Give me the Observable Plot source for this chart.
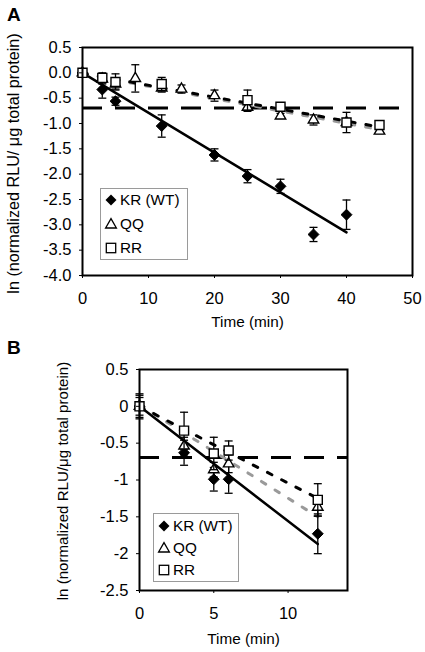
<!DOCTYPE html>
<html><head><meta charset="utf-8">
<script src="https://cdn.jsdelivr.net/npm/d3@7"></script>
<script src="https://cdn.jsdelivr.net/npm/@observablehq/plot@0.6"></script>
<style>
body{margin:0;background:#fff;}
#wrap{position:relative;width:425px;height:652px;background:#fff;font-family:"Liberation Sans",Arial,sans-serif;color:#000;}
.panel{position:absolute;left:0;}
.tag{position:absolute;font-weight:bold;font-size:19px;line-height:19px;}
.legend{position:absolute;border:1px solid #9a9a9a;background:#fff;font-size:15.3px;box-sizing:border-box;}
.legend .row{position:absolute;left:3px;height:20px;display:flex;align-items:center;white-space:nowrap;}
.legend svg{margin-right:2px;}
</style></head><body><div id="wrap"></div>
<script>
// ---------- data: panel A ----------
const seriesNames = ["KR (WT)", "QQ", "RR"];
const aTimeKR = [0, 3, 5, 12, 20, 25, 30, 35, 40];
const aValKR  = [0, -0.33, -0.56, -1.05, -1.62, -2.04, -2.24, -3.19, -2.8];
const aErrKR  = [0.05, 0.17, 0.08, 0.22, 0.12, 0.13, 0.14, 0.14, 0.29];
const aTimeQQ = [0, 3, 5, 8, 12, 15, 20, 25, 30, 35, 40, 45];
const aValQQ  = [0, -0.12, -0.22, -0.11, -0.3, -0.32, -0.45, -0.68, -0.85, -0.93, -0.98, -1.15];
const aErrQQ  = [0.05, 0.1, 0.1, 0.27, 0.08, 0.08, 0.11, 0.08, 0.05, 0.1, 0.08, 0.05];
const aTimeRR = [0, 3, 5, 12, 25, 30, 40, 45];
const aValRR  = [0, -0.1, -0.18, -0.22, -0.54, -0.67, -0.98, -1.03];
const aErrRR  = [0.07, 0.1, 0.16, 0.13, 0.2, 0.06, 0.2, 0.05];
const aFitTimeKR = [0, 40], aFitValKR = [0, -3.15];
const aFitTimeQQ = [0, 45], aFitValQQ = [-0.02, -1.12];
const aFitTimeRR = [0, 45], aFitValRR = [-0.01, -1.07];
const aXTicks = [0, 10, 20, 30, 40, 50];
const aYTicks = [0.5, 0, -0.5, -1, -1.5, -2, -2.5, -3, -3.5, -4];

// ---------- data: panel B ----------
const bTimeKR = [0, 3, 5, 6, 12];
const bValKR  = [0, -0.63, -0.99, -0.99, -1.73];
const bErrKR  = [0.17, 0.17, 0.16, 0.19, 0.27];
const bTimeQQ = [0, 3, 5, 6, 12];
const bValQQ  = [0, -0.54, -0.86, -0.78, -1.37];
const bErrQQ  = [0.12, 0.12, 0.1, 0.12, 0.12];
const bTimeRR = [0, 3, 5, 6, 12];
const bValRR  = [0, -0.33, -0.64, -0.6, -1.27];
const bErrRR  = [0.15, 0.25, 0.22, 0.13, 0.22];
const bFitTimeKR = [0, 12], bFitValKR = [0, -1.87];
const bFitTimeQQ = [0, 12], bFitValQQ = [0.02, -1.5];
const bFitTimeRR = [0, 12], bFitValRR = [0, -1.25];
const bXTicks = [0, 5, 10];
const bYTicks = [0.5, 0, -0.5, -1, -1.5, -2, -2.5];

const halfLife = [Math.log(0.5)];
const xTitle = "Time (min)";
const aYTitle = "ln (normalized RLU/ μg total protein)";
const bYTitle = "ln (normalized RLU/μg total protein)";

// ---------- helpers ----------
const FONT = '"Liberation Sans", Arial, sans-serif';
const cap = {draw(ctx) { ctx.moveTo(-4, 0); ctx.lineTo(4, 0); }};
const rows = (ts, vs, es) => ts.map((t, i) => ({t, v: vs[i], e: es[i]}));
const fit = (ts, vs) => ts.map((t, i) => ({t, v: vs[i]}));

const markerStyle = [
  {symbol: "diamond2", r: 4.9, fill: "black", stroke: "black", strokeWidth: 1},
  {symbol: "triangle", r: 3.9, fill: "white", stroke: "black", strokeWidth: 1.4},
  {symbol: "square", r: 5.1, fill: "white", stroke: "black", strokeWidth: 1.4}
];
const fitStyle = [
  {stroke: "black", strokeWidth: 2.5},
  {stroke: "#9a9a9a", strokeWidth: 3, strokeDasharray: "5,11"},
  {stroke: "black", strokeWidth: 3, strokeDasharray: "5,11"}
];

function makePanel(o) {
  const marks = [
    Plot.ruleY(halfLife, {y: d => d, stroke: "black", strokeWidth: 3, strokeDasharray: "20,13"}),
  ];
  o.fits.forEach((f, i) => marks.push(Plot.line(f, {x: "t", y: "v", ...fitStyle[i]})));
  o.series.forEach((s, i) => {
    marks.push(Plot.ruleX(s, {x: "t", y1: d => d.v - d.e, y2: d => d.v + d.e, stroke: "black", strokeWidth: 1.3}));
    marks.push(Plot.dot(s, {x: "t", y: d => d.v + d.e, symbol: cap, r: 4, fill: "none", stroke: "black", strokeWidth: 1.3}));
    marks.push(Plot.dot(s, {x: "t", y: d => d.v - d.e, symbol: cap, r: 4, fill: "none", stroke: "black", strokeWidth: 1.3}));
    marks.push(Plot.dot(s, {x: "t", y: "v", ...markerStyle[i]}));
  });
  marks.push(
    Plot.frame({stroke: "black", strokeWidth: 2}),
    Plot.axisY(o.yTicks, {tickSize: 3, tickPadding: 8, tickFormat: o.yFmt, label: null}),
    Plot.axisX(o.xTicks, {tickSize: 3, tickPadding: 14, tickFormat: d => String(d), label: null}),
    Plot.text([o.yTitle], {text: d => d, frameAnchor: "left", textAnchor: "middle", lineAnchor: "middle", rotate: -90, dx: o.yTitleDx, dy: o.yTitleDy, fontSize: o.yTitleSize}),
    Plot.text([xTitle], {text: d => d, frameAnchor: "bottom", textAnchor: "middle", lineAnchor: "middle", dy: o.xTitleDy, fontSize: 15.3})
  );
  return Plot.plot({
    width: 425, height: o.height,
    marginLeft: o.ml, marginRight: o.mr, marginTop: o.mt, marginBottom: o.mb,
    x: {domain: o.xDomain},
    y: {domain: o.yDomain},
    style: {fontFamily: FONT, fontSize: "16.5px", color: "black", background: "white", overflow: "visible"},
    marks
  });
}

const wrap = document.getElementById("wrap");

const A = makePanel({
  height: 330, ml: 82, mr: 13, mt: 47, mb: 55,
  xDomain: [0, 50], yDomain: [-4, 0.5],
  xTicks: aXTicks, yTicks: aYTicks, yFmt: d => d.toFixed(1),
  yTitle: aYTitle, yTitleDx: -69, yTitleDy: 2, yTitleSize: 16.2, xTitleDy: 47,
  series: [rows(aTimeKR, aValKR, aErrKR), rows(aTimeQQ, aValQQ, aErrQQ), rows(aTimeRR, aValRR, aErrRR)],
  fits: [fit(aFitTimeKR, aFitValKR), fit(aFitTimeQQ, aFitValQQ), fit(aFitTimeRR, aFitValRR)]
});
A.classList.add("panel"); A.style.top = "0px";
wrap.appendChild(A);

const B = makePanel({
  height: 322, ml: 139, mr: 78, mt: 39, mb: 62,
  xDomain: [0, 14], yDomain: [-2.5, 0.5],
  xTicks: bXTicks, yTicks: bYTicks, yFmt: d => String(d),
  yTitle: bYTitle, yTitleDx: -76, yTitleDy: 1, yTitleSize: 15.1, xTitleDy: 49,
  series: [rows(bTimeKR, bValKR, bErrKR), rows(bTimeQQ, bValQQ, bErrQQ), rows(bTimeRR, bValRR, bErrRR)],
  fits: [fit(bFitTimeKR, bFitValKR), fit(bFitTimeQQ, bFitValQQ), fit(bFitTimeRR, bFitValRR)]
});
B.classList.add("panel"); B.style.top = "330px";
wrap.appendChild(B);

// panel tags
[["A", 7, 5], ["B", 7, 338]].forEach(([t, x, y]) => {
  const d = document.createElement("div");
  d.className = "tag"; d.textContent = t;
  d.style.left = x + "px"; d.style.top = y + "px";
  wrap.appendChild(d);
});

// legends
const symbolSvg = [
  '<svg width="14" height="14" viewBox="-7 -7 14 14"><path d="M0,-5.5L5.5,0L0,5.5L-5.5,0Z" fill="black"/></svg>',
  '<svg width="14" height="14" viewBox="-7 -7 14 14"><path d="M0,-5.4L5.4,4L-5.4,4Z" fill="white" stroke="black" stroke-width="1.3"/></svg>',
  '<svg width="14" height="14" viewBox="-7 -7 14 14"><rect x="-4.7" y="-4.7" width="9.4" height="9.4" fill="white" stroke="black" stroke-width="1.3"/></svg>'
];
function legend(left, top, w, h, rowTops) {
  const box = document.createElement("div");
  box.className = "legend";
  Object.assign(box.style, {left: left + "px", top: top + "px", width: w + "px", height: h + "px"});
  seriesNames.forEach((name, i) => {
    const r = document.createElement("div");
    r.className = "row";
    r.style.top = rowTops[i] + "px";
    r.innerHTML = symbolSvg[i] + "<span>" + name + "</span>";
    box.appendChild(r);
  });
  wrap.appendChild(box);
}
legend(100, 188, 88, 72, [1, 25, 49]);
legend(153, 513, 86, 69, [2, 24, 46]);
</script></body></html>
